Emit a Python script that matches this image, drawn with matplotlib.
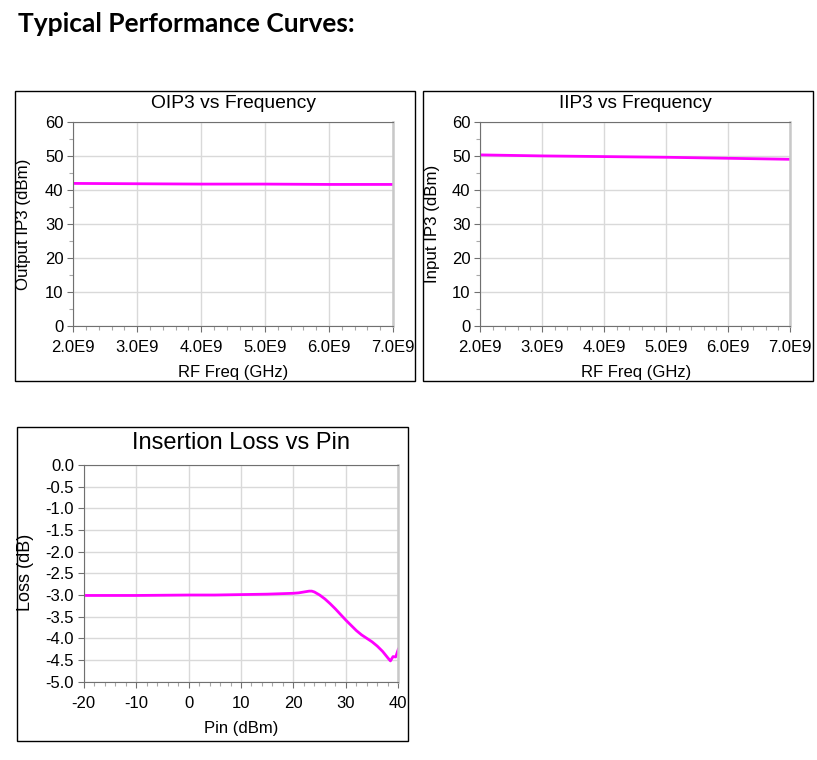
import matplotlib
matplotlib.use("Agg")
import matplotlib.pyplot as plt
from matplotlib.patches import Rectangle
from matplotlib.ticker import MultipleLocator, FixedLocator

plt.rcParams["axes.unicode_minus"] = False

# ---------------- data ----------------
freq_hz = [2.0e9, 3.0e9, 4.0e9, 5.0e9, 6.0e9, 7.0e9]
oip3_dbm = [42.0, 41.9, 41.8, 41.8, 41.7, 41.7]
iip3_dbm = [50.4, 50.1, 49.9, 49.7, 49.4, 49.1]
freq_ticks = [2.0e9, 3.0e9, 4.0e9, 5.0e9, 6.0e9, 7.0e9]
freq_tick_labels = ["2.0E9", "3.0E9", "4.0E9", "5.0E9", "6.0E9", "7.0E9"]
ip3_ticks = [0, 10, 20, 30, 40, 50, 60]

pin_dbm = [-20, -10, 0, 5, 10, 15, 20, 21, 22, 23, 23.5, 24, 25, 26, 27, 28,
           29, 30, 31, 32, 33, 34, 35, 36, 37, 38, 38.5, 39, 39.5, 40]
loss_db = [-3.01, -3.01, -3.00, -3.00, -2.99, -2.98, -2.96, -2.95, -2.93, -2.91,
           -2.91, -2.93, -3.00, -3.09, -3.20, -3.32, -3.45, -3.58, -3.70, -3.82,
           -3.92, -4.00, -4.08, -4.18, -4.30, -4.45, -4.52, -4.42, -4.43, -4.25]
pin_ticks = [-20, -10, 0, 10, 20, 30, 40]
pin_tick_labels = ["-20", "-10", "0", "10", "20", "30", "40"]
loss_ticks = [0.0, -0.5, -1.0, -1.5, -2.0, -2.5, -3.0, -3.5, -4.0, -4.5, -5.0]
loss_tick_labels = ["0.0", "-0.5", "-1.0", "-1.5", "-2.0", "-2.5", "-3.0",
                    "-3.5", "-4.0", "-4.5", "-5.0"]

W, H = 817, 760
fig = plt.figure(figsize=(W / 100, H / 100), dpi=100)
fig.patch.set_facecolor("white")

FONT = ["Liberation Sans", "DejaVu Sans"]
LINE = "#ff00ff"
DARK = "#707070"
LIGHT = "#c8c8c8"
GRID = "#d9d9d9"


def fx(x):
    return x / W


def fy(y):
    return 1 - y / H


def box(x0, y0, x1, y1):
    fig.patches.append(Rectangle((fx(x0), fy(y1)), fx(x1) - fx(x0), fy(y0) - fy(y1),
                                 transform=fig.transFigure, fill=False,
                                 edgecolor="black", linewidth=1.0))


def make_axes(l, t, r, b):
    ax = fig.add_axes([fx(l), fy(b), fx(r) - fx(l), fy(t) - fy(b)])
    for s in ["left", "bottom", "top"]:
        ax.spines[s].set_color(DARK)
        ax.spines[s].set_linewidth(0.8)
    ax.spines["right"].set_color(LIGHT)
    ax.spines["right"].set_linewidth(1.8)
    ax.grid(True, which="major", color=GRID, linewidth=1.0)
    ax.set_axisbelow(True)
    ax.tick_params(which="major", direction="out", length=4, width=0.8,
                   color=DARK, labelsize=12, pad=3)
    ax.tick_params(which="minor", direction="out", length=3, width=0.8, color="#a8a8a8")
    ax.tick_params(axis="x", which="major", pad=6)
    return ax


def style_labels(ax):
    for lab in ax.get_xticklabels() + ax.get_yticklabels():
        lab.set_family(FONT)
        lab.set_fontsize(12)


# Page heading
fig.text(fx(18), fy(32), "Typical Performance Curves:", family=["Lato", "DejaVu Sans"],
         fontweight="bold", fontsize=19, ha="left", va="baseline")

# Boxes
box(15, 91, 415, 381)
box(423, 91, 813, 381)
box(17, 427, 408, 741)

# ---- Panel 1: OIP3 ----
ax1 = make_axes(73.3, 122.3, 393, 326)
ax1.plot(freq_hz, oip3_dbm, color=LINE, linewidth=2.0, solid_capstyle="butt")
ax1.set_xlim(2.0e9, 7.0e9)
ax1.set_ylim(0, 60)
ax1.xaxis.set_major_locator(FixedLocator(freq_ticks))
ax1.set_xticklabels(freq_tick_labels)
ax1.xaxis.set_minor_locator(MultipleLocator(0.2e9))
ax1.yaxis.set_major_locator(FixedLocator(ip3_ticks))
ax1.set_yticklabels([str(v) for v in ip3_ticks])
ax1.yaxis.set_minor_locator(MultipleLocator(5))
style_labels(ax1)
fig.text(fx(233), fy(108), "OIP3 vs Frequency", family=FONT, fontsize=13.9,
         ha="center", va="baseline")
fig.text(fx(24), fy(224), "Output IP3 (dBm)", family=FONT, fontsize=12.2,
         rotation=90, ha="center", va="center")
fig.text(fx(233), fy(373), "RF Freq (GHz)", family=FONT, fontsize=12,
         ha="center", va="center")

# ---- Panel 2: IIP3 ----
ax2 = make_axes(480.3, 122.3, 790.3, 326)
ax2.plot(freq_hz, iip3_dbm, color=LINE, linewidth=2.0, solid_capstyle="butt")
ax2.set_xlim(2.0e9, 7.0e9)
ax2.set_ylim(0, 60)
ax2.xaxis.set_major_locator(FixedLocator(freq_ticks))
ax2.set_xticklabels(freq_tick_labels)
ax2.xaxis.set_minor_locator(MultipleLocator(0.2e9))
ax2.yaxis.set_major_locator(FixedLocator(ip3_ticks))
ax2.set_yticklabels([str(v) for v in ip3_ticks])
ax2.yaxis.set_minor_locator(MultipleLocator(5))
style_labels(ax2)
fig.text(fx(635), fy(108), "IIP3 vs Frequency", family=FONT, fontsize=13.7,
         ha="center", va="baseline")
fig.text(fx(432), fy(224), "Input IP3 (dBm)", family=FONT, fontsize=12.2,
         rotation=90, ha="center", va="center")
fig.text(fx(636), fy(373), "RF Freq (GHz)", family=FONT, fontsize=12,
         ha="center", va="center")

# ---- Panel 3: Insertion loss ----
ax3 = make_axes(83.7, 465, 398.3, 681.7)
ax3.plot(pin_dbm, loss_db, color=LINE, linewidth=2.0)
ax3.set_xlim(-20, 40)
ax3.set_ylim(-5.0, 0.0)
ax3.xaxis.set_major_locator(FixedLocator(pin_ticks))
ax3.set_xticklabels(pin_tick_labels)
ax3.xaxis.set_minor_locator(MultipleLocator(2))
ax3.yaxis.set_major_locator(FixedLocator(loss_ticks))
ax3.set_yticklabels(loss_tick_labels)
style_labels(ax3)
fig.text(fx(241), fy(449), "Insertion Loss vs Pin", family=FONT, fontsize=17,
         ha="center", va="baseline")
fig.text(fx(26), fy(572), "Loss (dB)", family=FONT, fontsize=13,
         rotation=90, ha="center", va="center")
fig.text(fx(241), fy(728), "Pin (dBm)", family=FONT, fontsize=12,
         ha="center", va="center")

fig.savefig("out.png", dpi=100, facecolor="white")
